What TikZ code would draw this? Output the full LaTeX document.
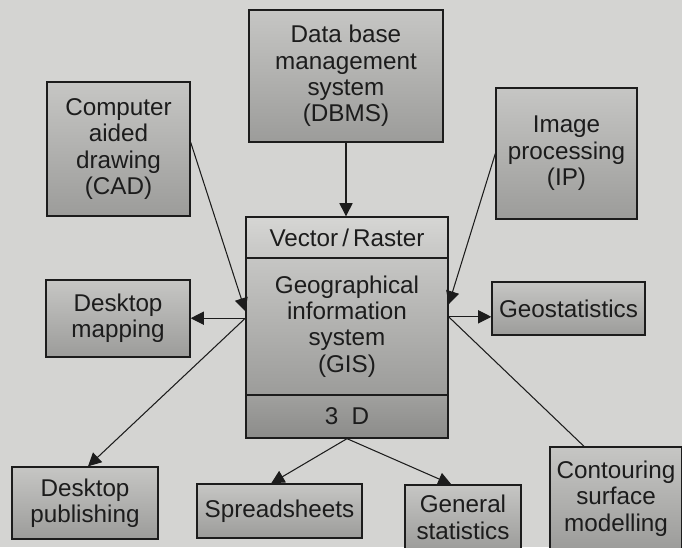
\documentclass[tikz,border=0pt]{standalone}
\usepackage{fontspec}
\setmainfont{Liberation Sans}
\usetikzlibrary{arrows.meta,calc}
\definecolor{paper}{RGB}{212,212,210}
\definecolor{boxtop}{RGB}{198,198,196}
\definecolor{boxbot}{RGB}{156,156,154}
\definecolor{lidtop}{RGB}{214,214,212}
\definecolor{lidbot}{RGB}{198,198,196}
\definecolor{basetop}{RGB}{160,160,158}
\definecolor{basebot}{RGB}{140,140,138}
\definecolor{ink}{RGB}{28,28,28}
\tikzset{
  box/.style={draw=ink, line width=0.75pt, top color=boxtop, bottom color=boxbot,
    text=ink, align=center, inner sep=0pt, font=\fontsize{13.8}{15}\selectfont},
  sz/.style 2 args={minimum width=#1*0.02cm, minimum height=#2*0.02cm},
  link/.style={draw=ink, line width=0.6pt},
  tip/.style={link, -{Triangle[length=7.5pt,width=7.5pt]}},
}
\begin{document}
\begin{tikzpicture}[x=0.02cm,y=-0.02cm]
\useasboundingbox (0,0) rectangle (682,547);
\clip (0,0) rectangle (682,547);
\fill[paper] (0,0) rectangle (682,547);

% central GIS block in three compartments
\node[box, sz={202}{41}, top color=lidtop, bottom color=lidbot] (vr) at (347,237.5) {Vector\,/\,Raster};
\node[box, sz={202}{137}] (gis) at (347,326.5) {Geographical\\information\\system\\(GIS)};
\node[box, sz={202}{43}, top color=basetop, bottom color=basebot] (td) at (347,416.5) {3\ \ D};

% surrounding systems
\node[box, sz={194}{132}] (dbms) at (346,76) {Data base\\management\\system\\(DBMS)};
\node[box, sz={143}{134}] (cad) at (118.5,149) {Computer\\aided\\drawing\\(CAD)};
\node[box, sz={141}{131}] (ip) at (566.5,153.5) {Image\\processing\\(IP)};
\node[box, sz={144}{77}] (map) at (118,318.5) {Desktop\\mapping};
\node[box, sz={153}{53}] (geo) at (568.5,308.5) {Geostatistics};
\node[box, sz={146}{72}] (pub) at (85,503) {Desktop\\publishing};
\node[box, sz={165}{54}] (sheet) at (279.5,511) {Spreadsheets};
\node[box, sz={116}{65}] (gstat) at (463,517.5) {General\\statistics};
\node[box, sz={132}{103}] (cont) at (616,498.5) {Contouring\\surface\\modelling};

% ports on the GIS sides
\coordinate (hubL) at ($(gis.north west)!0.44!(gis.south west)$);
\coordinate (hubR) at ($(gis.north east)!0.43!(gis.south east)$);
\coordinate (inL) at ($(gis.north west)!0.39!(gis.south west)$);
\coordinate (inR) at ($(gis.north east)!0.34!(gis.south east)$);

% inputs
\draw[tip] (dbms.south) -- (dbms.south |- vr.north);
\draw[tip] ($(cad.north east)!0.45!(cad.south east)$) -- (inL);
\draw[tip] (ip.west) -- (inR);

% outputs
\draw[tip] (hubL) -- (hubL -| map.east);
\draw[tip] (hubL) -- ($(pub.north)+(3,0)$);
\draw[tip] (hubR) -- (hubR -| geo.west);
\draw[link] (hubR) -- ($(cont.north west)!0.26!(cont.north east)$);
\draw[tip] (td.south) -- ($(sheet.north west)!0.45!(sheet.north east)$);
\draw[tip] (td.south) -- ($(gstat.north west)!0.4!(gstat.north east)$);
\end{tikzpicture}
\end{document}
